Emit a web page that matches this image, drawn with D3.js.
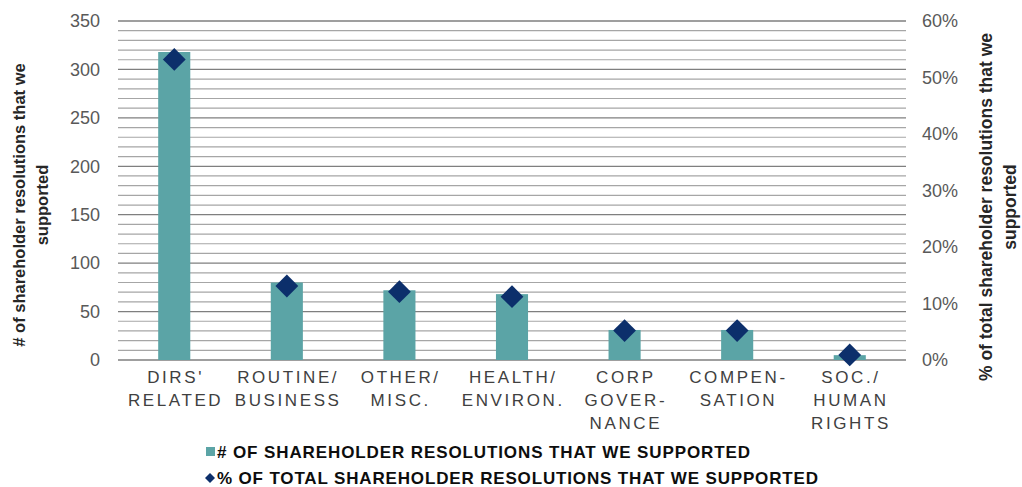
<!DOCTYPE html>
<html>
<head>
<meta charset="utf-8">
<script src="https://cdn.jsdelivr.net/npm/d3@7"></script>
<style>
  body { margin: 0; background: #fff; }
  svg text { font-family: "Liberation Sans", Arial, sans-serif; }
</style>
</head>
<body>
<div id="chart"></div>
<script>
// chart data
let categories = [
    ["DIRS'", "RELATED"],
    ["ROUTINE/", "BUSINESS"],
    ["OTHER/", "MISC."],
    ["HEALTH/", "ENVIRON."],
    ["CORP", "GOVER-", "NANCE"],
    ["COMPEN-", "SATION"],
    ["SOC./", "HUMAN", "RIGHTS"]
];
let counts = [318, 80, 72, 68, 31, 31, 5];
let percents = [0.532, 0.131, 0.121, 0.112, 0.052, 0.052, 0.009];
let leftTicks = [0, 50, 100, 150, 200, 250, 300, 350];
let rightTicks = [0, 0.1, 0.2, 0.3, 0.4, 0.5, 0.6];
let seriesNames = [
    '# OF SHAREHOLDER RESOLUTIONS THAT WE SUPPORTED',
    '% OF TOTAL SHAREHOLDER RESOLUTIONS THAT WE SUPPORTED'
];

let width = 1022, height = 487;
let margin = {top: 21, left: 118, right: 116, bottom: 127};
let innerwidth = width - margin.left - margin.right;
let innerheight = height - margin.top - margin.bottom;

let barColor = '#5ba4a6', markColor = '#0c2f6b';

let svg = d3.select('#chart').append('svg')
    .attr('width', width)
    .attr('height', height);

let g = svg.append('g')
    .attr('transform', `translate(${margin.left},${margin.top})`);

let x = d3.scaleBand()
    .domain(d3.range(categories.length))
    .range([0, innerwidth])
    .paddingInner(0.715)
    .paddingOuter(0.357);
let xc = d3.scaleBand().domain(d3.range(categories.length)).range([0, innerwidth]);

let yL = d3.scaleLinear().domain([0, 350]).range([innerheight, 0]);
let yR = d3.scaleLinear().domain([0, 0.6]).range([innerheight, 0]);

// gridlines: minor every 10, major every 50
let grid = g.append('g');
grid.selectAll('line.minor')
    .data(d3.range(10, 351, 10).filter(v => v % 50 != 0))
    .join('line')
    .attr('x1', 0).attr('x2', innerwidth)
    .attr('y1', d => yL(d)).attr('y2', d => yL(d))
    .attr('stroke', '#a6a6a6').attr('stroke-width', 1.2);
grid.selectAll('line.major')
    .data(leftTicks)
    .join('line')
    .attr('x1', 0).attr('x2', innerwidth)
    .attr('y1', d => yL(d)).attr('y2', d => yL(d))
    .attr('stroke', '#7f7f7f').attr('stroke-width', 1.3);

// bars
g.selectAll('rect.bar')
    .data(counts)
    .join('rect')
    .attr('x', (d, i) => x(i))
    .attr('width', x.bandwidth())
    .attr('y', d => yL(d))
    .attr('height', d => innerheight - yL(d))
    .attr('fill', barColor);

// diamonds
let diamond = d3.symbol().type(d3.symbolSquare).size(260);
g.selectAll('path.mark')
    .data(percents)
    .join('path')
    .attr('d', diamond)
    .attr('transform', (d, i) => `translate(${xc(i) + xc.bandwidth() / 2},${yR(d)}) rotate(45)`)
    .attr('fill', markColor);

// left axis labels
let leftAxis = g.append('g')
    .call(d3.axisLeft(yL).tickValues(leftTicks).tickSize(0).tickPadding(18));
leftAxis.select('.domain').remove();
leftAxis.selectAll('text')
    .attr('font-size', 18).attr('fill', '#595959')
    .style('font-family', '"Liberation Sans", Arial, sans-serif');

// right axis labels
let rightAxis = g.append('g')
    .attr('transform', `translate(${innerwidth},0)`)
    .call(d3.axisRight(yR).tickValues(rightTicks).tickSize(0).tickPadding(16).tickFormat(d3.format('.0%')));
rightAxis.select('.domain').remove();
rightAxis.selectAll('text')
    .attr('font-size', 18).attr('fill', '#595959')
    .style('font-family', '"Liberation Sans", Arial, sans-serif');

// category labels
let cats = g.append('g');
categories.forEach(function(lines, i) {
    let t = cats.append('text')
        .attr('text-anchor', 'middle')
        .attr('font-size', 17)
        .attr('letter-spacing', 2.6)
        .attr('fill', '#404040');
    lines.forEach(function(line, j) {
        t.append('tspan')
            .attr('x', xc(i) + xc.bandwidth() / 2 + 1.3)
            .attr('y', innerheight + 23 + j * 22.8)
            .text(line);
    });
});

// axis titles
let leftTitle = svg.append('text')
    .attr('transform', `translate(25,205) rotate(-90)`)
    .attr('text-anchor', 'middle')
    .attr('font-size', 16.5).attr('font-weight', 'bold').attr('fill', '#262626');
leftTitle.append('tspan').attr('x', 0).attr('y', 0).text('# of shareholder resolutions that we');
leftTitle.append('tspan').attr('x', 0).attr('y', 23).text('supported');

let rightTitle = svg.append('text')
    .attr('transform', `translate(992,207) rotate(-90)`)
    .attr('text-anchor', 'middle')
    .attr('font-size', 17.5).attr('font-weight', 'bold').attr('fill', '#262626');
rightTitle.append('tspan').attr('x', 0).attr('y', 0).text('% of total shareholder resolutions that we');
rightTitle.append('tspan').attr('x', 0).attr('y', 24).text('supported');

// legend
let legend = svg.append('g');
legend.append('rect')
    .attr('x', 206).attr('y', 447).attr('width', 9).attr('height', 9)
    .attr('fill', barColor);
legend.append('path')
    .attr('d', d3.symbol().type(d3.symbolSquare).size(50))
    .attr('transform', 'translate(210,478) rotate(45)')
    .attr('fill', markColor);
legend.selectAll('text.leg')
    .data(seriesNames)
    .join('text')
    .attr('x', 217)
    .attr('y', (d, i) => 458 + i * 26)
    .attr('font-size', 17)
    .attr('font-weight', 'bold')
    .attr('fill', '#0d0d0d')
    .attr('textLength', (d, i) => i == 0 ? 533 : 601)
    .attr('lengthAdjust', 'spacing')
    .text(d => d);
</script>
</body>
</html>
